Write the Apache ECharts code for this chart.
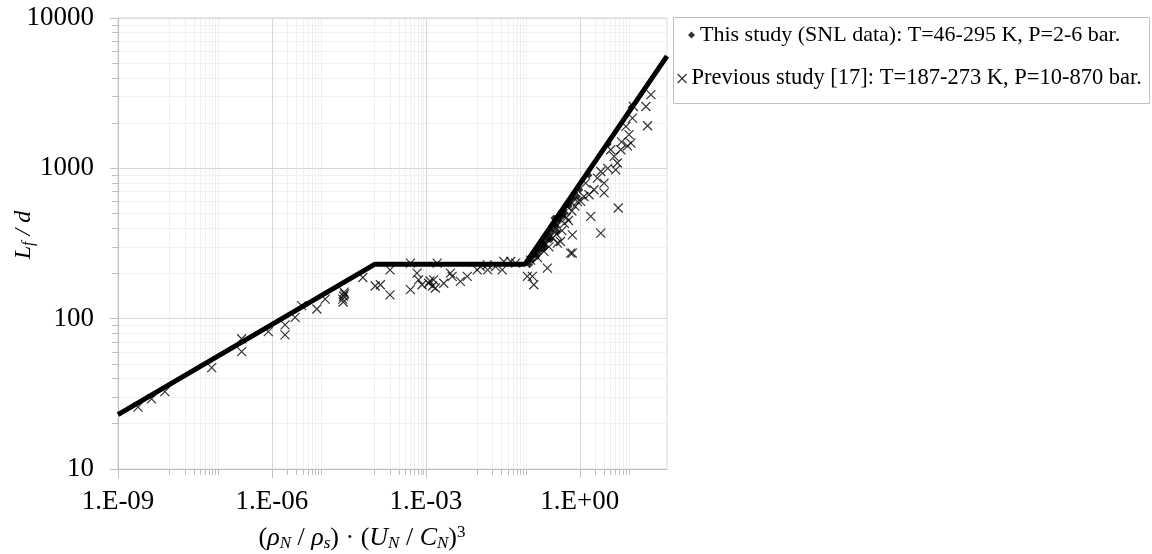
<!DOCTYPE html>
<html>
<head>
<meta charset="utf-8">
<script src="https://cdn.jsdelivr.net/npm/echarts@6/dist/echarts.min.js"></script>
<style>
html,body{margin:0;padding:0;background:#fff;}
#chart{width:1152px;height:554px;}
</style>
</head>
<body>
<div id="chart"></div>
<script>
// ---- data ----
const seriesNames = ['This study (SNL data): T=46-295 K, P=2-6 bar.', 'Previous study [17]: T=187-273 K, P=10-870 bar.'];
const xMin = 1e-9, xMax = 50, yMin = 10, yMax = 10000;
const xMajorTicks = [1e-9, 1e-6, 1e-3, 1];
const xMinorTicks = [1e-8,2e-8,3e-8,4e-8,5e-8,6e-8,7e-8,8e-8,9e-8,
  2e-6,3e-6,4e-6,5e-6,6e-6,7e-6,8e-6,9e-6,
  1e-4,2e-4,3e-4,4e-4,5e-4,6e-4,7e-4,8e-4,9e-4,
  1e-2,2e-2,3e-2,4e-2,5e-2,6e-2,7e-2,8e-2,9e-2,
  2,3,4,5,6,7,8,9];
const yMajorTicks = [10, 100, 1000, 10000];
const yMinorTicks = [20,30,40,50,60,70,80,90,200,300,400,500,600,700,800,900,2000,3000,4000,5000,6000,7000,8000,9000];

const snlX = [0.1,0.105,0.11,0.115,0.12,0.13,0.14,0.15,0.16,0.17,0.186,0.18,0.2,0.22,0.25,0.27,0.3,0.313,0.35,0.366,0.4,0.42,0.45,0.5,0.55,0.6,0.65,0.7,0.75,0.8,0.9,1.0,1.5,3.6,10,
  0.125,0.145,0.19,0.21,0.24,0.28,0.33,0.38,0.47,0.52,0.62];
const snlY = [240,228,255,262,245,268,282,272,295,288,287,312,305,326,352,335,395,467,410,380,455,480,505,530,565,600,590,640,625,690,650,720,900,1450,2550,
  275,258,320,300,340,370,420,440,480,505,560];

const prevX = [2.45e-9,4.5e-9,8.2e-9,6.7e-8,2.57e-7,2.57e-7,8.5e-7,1.8e-6,1.8e-6,2.83e-6,3.8e-6,7.5e-6,1.09e-5,2.4e-5,2.5e-5,2.6e-5,2.45e-5,2.55e-5,5.9e-5,1.03e-4,1.3e-4,2.0e-4,2.0e-4,
  5.0e-4,5.0e-4,6.7e-4,7.2e-4,8.4e-4,1.13e-3,1.2e-3,1.35e-3,1.42e-3,1.53e-3,1.66e-3,2.23e-3,3.0e-3,3.25e-3,4.7e-3,6.4e-3,1.0e-2,1.16e-2,1.57e-2,1.6e-2,2.28e-2,3.08e-2,3.3e-2,4.5e-2,5.6e-2,9.5e-2,
  0.119,0.127,0.233,0.366,0.42,0.664,0.716,0.716,1.63,2.56,5.6,0.11,0.15,0.2,0.25,0.3,0.35,0.45,0.5,0.55,0.6,0.7,0.8,0.9,1.04,1.2,1.3,1.51,1.89,2.2,2.56,2.97,2.97,3.5,4.0,4.66,5.0,5.4,6.3,6.5,7.9,8.5,9.1,9.9,10.6,11.1,19.4,20.9,24.3];
const prevY = [25.8,29.3,32.7,47.2,73.5,60.4,82,91,78,102,122,116,135,135,141,146,129,150,188,165,168,211,144,
  234,156,201,181,168,172,178,165,181,160,234,172,201,191,177,191,211,222,228,211,222,211,240,240,234,191,
  191,168,217,318,326,273,273,361,479,371,545,245,255,280,300,345,365,385,430,470,450,520,560,600,603,650,798,667,720,861,953,798,686,1000,1330,1200,977,1085,1330,1500,1900,1410,1675,1470,2160,2580,2580,1920,3090];

const fitX = [1e-9, 1e-4, 0.085, 50];
const fitY = [23, 230, 230, 5578];

// ---- chart ----
const serif = 'Liberation Serif';
const crossPath = 'path://M0,0L10,10M10,0L0,10';
const zip = (a, b) => a.map((v, i) => [v, b[i]]);
const fmtX = v => { const e = Math.round(Math.log10(v)); return '1.E' + (e < 0 ? '-' : '+') + String(Math.abs(e)).padStart(2, '0'); };
const fmtY = v => String(Math.round(v));

const chart = echarts.init(document.getElementById('chart'), null, {renderer: 'canvas'});
chart.setOption({
  animation: false,
  backgroundColor: '#fff',
  grid: {left: 118, right: 485, top: 18, bottom: 85, show: true, borderColor: '#d9d9d9', borderWidth: 1, backgroundColor: 'transparent'},
  xAxis: [
    {type: 'log', logBase: 10, min: xMin, max: xMax, position: 'bottom', z: 3,
     axisLine: {show: true, onZero: false, lineStyle: {color: '#bfbfbf', width: 1}},
     axisTick: {show: true, customValues: xMajorTicks, length: 9, lineStyle: {color: '#bfbfbf'}},
     axisLabel: {show: true, customValues: xMajorTicks, formatter: fmtX, fontFamily: serif, fontSize: 27, color: '#000', margin: 19},
     splitLine: {show: true, lineStyle: {color: '#d9d9d9', width: 1}},
     minorTick: {show: false}, minorSplitLine: {show: false}},
    {type: 'log', logBase: 10, min: xMin, max: xMax, position: 'bottom', z: 2,
     axisLine: {show: false},
     axisTick: {show: true, customValues: xMinorTicks, length: 6, lineStyle: {color: '#bfbfbf'}},
     axisLabel: {show: false},
     splitLine: {show: true, lineStyle: {color: '#f0f0f0', width: 1}}}
  ],
  yAxis: [
    {type: 'log', logBase: 10, min: yMin, max: yMax, z: 3,
     axisLine: {show: true, onZero: false, lineStyle: {color: '#bfbfbf', width: 1}},
     axisTick: {show: true, customValues: yMajorTicks, length: 8, lineStyle: {color: '#bfbfbf'}},
     axisLabel: {show: true, customValues: yMajorTicks, formatter: fmtY, fontFamily: serif, fontSize: 27, color: '#000', margin: 24},
     splitLine: {show: true, lineStyle: {color: '#d9d9d9', width: 1}}},
    {type: 'log', logBase: 10, min: yMin, max: yMax, position: 'left', z: 2,
     axisLine: {show: false},
     axisTick: {show: true, customValues: yMinorTicks, length: 6, lineStyle: {color: '#bfbfbf'}},
     axisLabel: {show: false},
     splitLine: {show: true, lineStyle: {color: '#f0f0f0', width: 1}}}
  ],
  legend: [
    {left: 688, top: 24, padding: 0, itemWidth: 7, itemHeight: 7, itemGap: 0,
     textStyle: {fontFamily: serif, fontSize: 22, color: '#000'},
     data: [{name: seriesNames[0], icon: 'diamond', itemStyle: {color: '#000'}}]},
    {left: 677, top: 67, padding: 0, itemWidth: 9, itemHeight: 9, itemGap: 0,
     textStyle: {fontFamily: serif, fontSize: 22.5, color: '#000'},
     data: [{name: seriesNames[1], icon: crossPath, itemStyle: {color: 'transparent', borderColor: '#000', borderWidth: 1.2}}]}
  ],
  graphic: [
    {type: 'rect', shape: {x: 673.5, y: 17.5, width: 476, height: 86}, style: {fill: '#fff', stroke: '#bfbfbf', lineWidth: 1}, z: -1, silent: true},
    {type: 'text', x: 362, y: 538, silent: true,
     style: {text: '{p|(}{i|ρ}{s|N}{p| / }{i|ρ}{s|s}{p|) · (}{i|U}{s|N}{p| / }{i|C}{s|N}{p|)}{u|3}', align: 'center', verticalAlign: 'middle',
       rich: {p: {fontFamily: serif, fontSize: 26, lineHeight: 28, fill: '#000'},
              i: {fontFamily: serif, fontStyle: 'italic', fontSize: 26, lineHeight: 28, fill: '#000'},
              s: {fontFamily: serif, fontStyle: 'italic', fontSize: 17, lineHeight: 17, verticalAlign: 'bottom', fill: '#000'},
              u: {fontFamily: serif, fontSize: 17, lineHeight: 17, verticalAlign: 'top', fill: '#000'}}}},
    {type: 'text', x: 24, y: 235, rotation: Math.PI / 2, silent: true,
     style: {text: '{i|L}{s|f}{i| / d}', align: 'center', verticalAlign: 'middle',
       rich: {i: {fontFamily: serif, fontStyle: 'italic', fontSize: 24, lineHeight: 26, fill: '#000'},
              s: {fontFamily: serif, fontStyle: 'italic', fontSize: 16, lineHeight: 16, verticalAlign: 'bottom', fill: '#000'}}}}
  ],
  series: [
    {name: seriesNames[0], type: 'scatter', xAxisIndex: 0, yAxisIndex: 0, data: zip(snlX, snlY),
     symbol: 'diamond', symbolSize: 7, itemStyle: {color: '#000'}, z: 3},
    {name: seriesNames[1], type: 'scatter', xAxisIndex: 0, yAxisIndex: 0, data: zip(prevX, prevY),
     symbol: crossPath, symbolSize: 9, itemStyle: {color: 'transparent', borderColor: '#000', borderWidth: 1.2}, z: 3},
    {name: 'fit', type: 'line', xAxisIndex: 0, yAxisIndex: 0, data: zip(fitX, fitY), symbol: 'none',
     lineStyle: {color: '#000', width: 5}, z: 4, clip: true}
  ]
});
</script>
</body>
</html>
